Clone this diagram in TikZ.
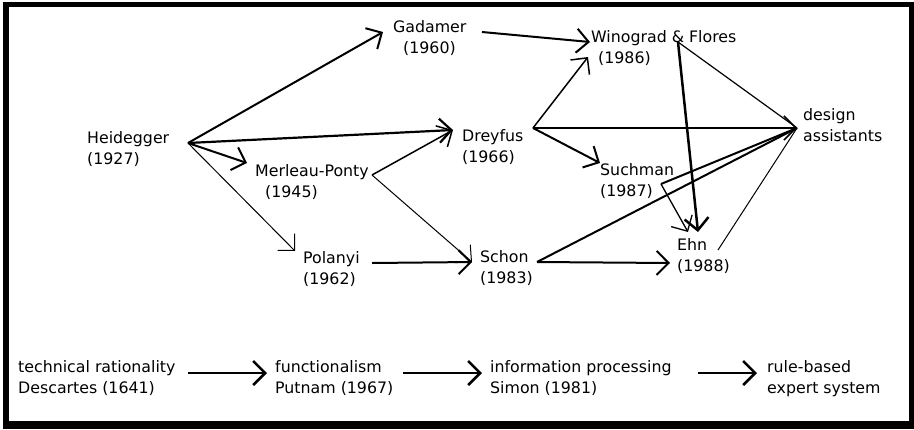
\documentclass[tikz,border=0pt]{standalone}
\usepackage{fontspec}
\setmainfont{DejaVu Sans}
\usetikzlibrary{arrows.meta}
\begin{document}
\begin{tikzpicture}[x=1pt,y=-1pt,
  lbl/.style={anchor=north west, inner sep=0pt, align=left,
    font=\fontsize{15.8}{21}\selectfont},
  link/.style={line width=#1, -{Straight Barb[length=12pt,width=24pt]}},
  link/.default=1.5pt,
  bare/.style={line width=#1},
  bare/.default=1.5pt]

% page and frame
\fill[white] (0,0) rectangle (914,429);
\useasboundingbox (0,0) rectangle (914,429);
\fill[black] (3,2) rectangle (914,429);
\fill[white] (9,7) rectangle (909,421);

% thinkers and traditions
\node[lbl] (heid) at (87,131)  {Heidegger\\(1927)};
\node[lbl] (gada) at (393,20)  {Gadamer\\\hspace*{10pt}(1960)};
\node[lbl] (merl) at (255,164) {Merleau-Ponty\\\hspace*{10pt}(1945)};
\node[lbl] (drey) at (462,129) {Dreyfus\\(1966)};
\node[lbl] (wino) at (591,30)  {Winograd \& Flores\\\hspace*{7pt}(1986)};
\node[lbl] (pola) at (303,251) {Polanyi\\(1962)};
\node[lbl] (scho) at (480,250) {Schon\\(1983)};
\node[lbl] (such) at (600,163) {Suchman\\(1987)};
\node[lbl] (ehn)  at (677,238) {Ehn\\(1988)};
\node[lbl] (desg) at (803,108) {design\\assistants};
\node[lbl] (tech) at (18,360)  {technical rationality\\Descartes (1641)};
\node[lbl] (func) at (275,360) {functionalism\\Putnam (1967)};
\node[lbl] (info) at (490,360) {information processing\\Simon (1981)};
\node[lbl] (rule) at (767,360) {rule-based\\expert system};

% connector ports
\coordinate (heid-o) at (188,143);
\coordinate (gada-i) at (383,32);
\coordinate (gada-o) at (482,32);
\coordinate (merl-i) at (247,163);
\coordinate (merl-o) at (372,175);
\coordinate (drey-i) at (453,130);
\coordinate (drey-o) at (533,128);
\coordinate (pola-i) at (295,251);
\coordinate (pola-o) at (372,263);
\coordinate (scho-i) at (472,262);
\coordinate (scho-o) at (537,262);
\coordinate (wino-i) at (590,42);
\coordinate (wino-j) at (588,57);
\coordinate (wino-o) at (678,42);
\coordinate (such-i) at (600,163);
\coordinate (such-o) at (661,184);
\coordinate (ehn-i)  at (698,232);
\coordinate (ehn-j)  at (688,232);
\coordinate (ehn-k)  at (670,263);
\coordinate (ehn-o)  at (718,250);
\coordinate (desg-i) at (797,128);
\coordinate (tech-o) at (188,373);
\coordinate (func-i) at (267,373);
\coordinate (func-o) at (403,373);
\coordinate (info-i) at (482,373);
\coordinate (info-o) at (698,373);
\coordinate (rule-i) at (757,373);

% influences
\draw[link=2pt]   (heid-o) -- (gada-i);
\draw[link=2.2pt] (heid-o) -- (drey-i);
\draw[link=2pt]   (heid-o) -- (merl-i);
\draw[link=1pt]   (heid-o) -- (pola-i);
\draw[link=1.5pt] (merl-o) -- (drey-i);
\draw[link=1pt]   (merl-o) -- (scho-i);
\draw[link=2pt]   (pola-o) -- (scho-i);
\draw[link=2pt]   (gada-o) -- (wino-i);
\draw[link=1.5pt] (drey-o) -- (wino-j);
\draw[link=1.5pt] (drey-o) -- (desg-i);
\draw[link=2pt]   (drey-o) -- (such-i);
\draw[bare=1.2pt] (wino-o) -- (desg-i);
\draw[link=2.5pt] (wino-o) -- (ehn-i);
\draw[bare=2pt]   (such-o) -- (desg-i);
\draw[link=1.3pt] (such-o) -- (ehn-j);
\draw[bare=2pt]   (scho-o) -- (desg-i);
\draw[link=2pt]   (scho-o) -- (ehn-k);
\draw[bare=1pt]   (ehn-o)  -- (desg-i);

% the rationalist line
\draw[link=2.5pt] (tech-o) -- (func-i);
\draw[link=2.5pt] (func-o) -- (info-i);
\draw[link=2.5pt] (info-o) -- (rule-i);
\end{tikzpicture}
\end{document}
